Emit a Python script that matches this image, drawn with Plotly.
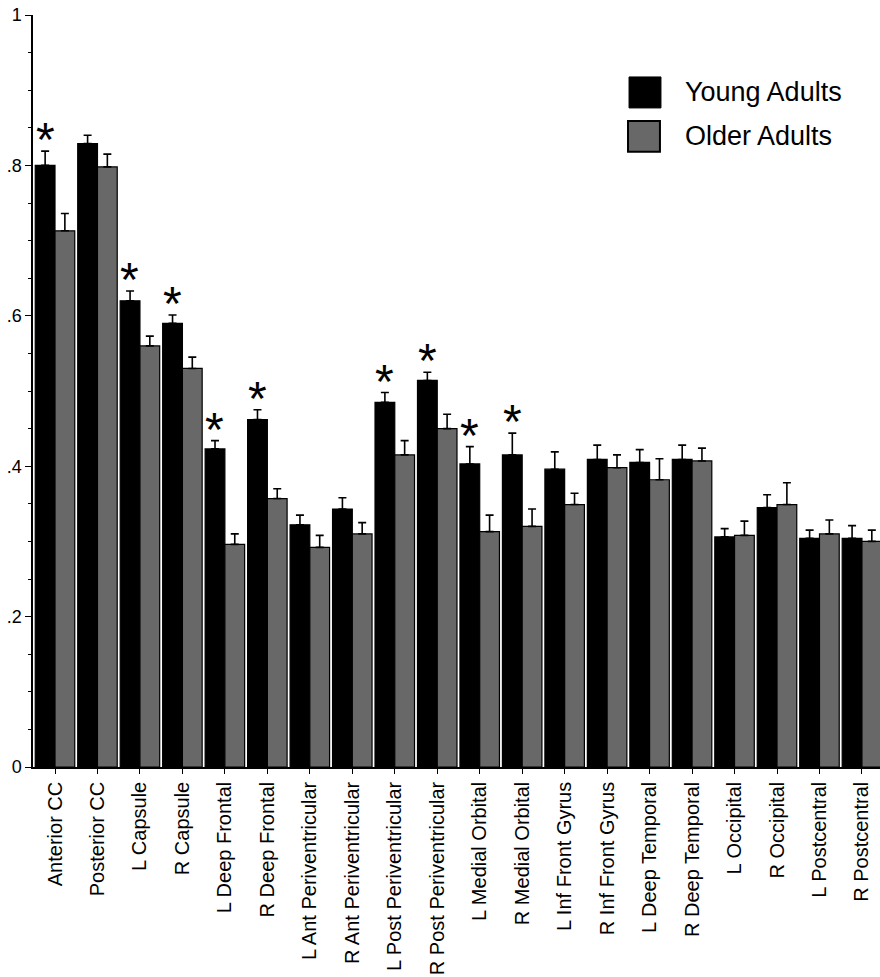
import plotly.graph_objects as go

categories = ["Anterior CC", "Posterior CC", "L Capsule", "R Capsule", "L Deep Frontal",
              "R Deep Frontal", "L Ant Periventricular", "R Ant Periventricular",
              "L Post Periventricular", "R Post Periventricular", "L Medial Orbital",
              "R Medial Orbital", "L Inf Front Gyrus", "R Inf Front Gyrus", "L Deep Temporal",
              "R Deep Temporal", "L Occipital", "R Occipital", "L Postcentral", "R Postcentral"]
young = [0.800, 0.829, 0.620, 0.590, 0.423, 0.462, 0.322, 0.343, 0.485, 0.514,
         0.403, 0.415, 0.396, 0.409, 0.405, 0.409, 0.306, 0.345, 0.304, 0.304]
young_err = [0.019, 0.011, 0.013, 0.011, 0.011, 0.013, 0.013, 0.015, 0.013, 0.011,
             0.023, 0.029, 0.023, 0.019, 0.017, 0.019, 0.011, 0.017, 0.011, 0.017]
older = [0.713, 0.798, 0.560, 0.530, 0.296, 0.357, 0.292, 0.310, 0.415, 0.450,
         0.313, 0.320, 0.349, 0.398, 0.382, 0.407, 0.308, 0.349, 0.310, 0.300]
older_err = [0.023, 0.017, 0.013, 0.015, 0.014, 0.013, 0.016, 0.015, 0.019, 0.019,
             0.022, 0.023, 0.015, 0.017, 0.028, 0.017, 0.019, 0.029, 0.0185, 0.015]
significant = [True, False, True, True, True, True, False, False, True, True,
               True, True, False, False, False, False, False, False, False, False]
y_tickvals = [0, 0.2, 0.4, 0.6, 0.8, 1]
y_ticktext = ["0", ".2", ".4", ".6", ".8", "1"]
series_names = ["Young Adults", "Older Adults"]

FONT = "Liberation Sans, Arial, sans-serif"
GREY = "#686868"

fig = go.Figure()
fig.add_trace(go.Bar(
    x=categories, y=young, name=series_names[0],
    marker=dict(color="black", line=dict(color="black", width=1.2)),
    error_y=dict(type="data", symmetric=False, array=young_err,
                 arrayminus=[0] * len(young_err), color="black", thickness=1.6, width=4),
    showlegend=False))
fig.add_trace(go.Bar(
    x=categories, y=older, name=series_names[1],
    marker=dict(color=GREY, line=dict(color="black", width=1.2)),
    error_y=dict(type="data", symmetric=False, array=older_err,
                 arrayminus=[0] * len(older_err), color="black", thickness=1.6, width=4),
    showlegend=False))

annotations = []
for c, v, e, s in zip(categories, young, young_err, significant):
    if s:
        annotations.append(dict(x=c, y=v + e, text="*", showarrow=False, xref="x", yref="y",
                                xanchor="center", yanchor="bottom", xshift=-10, yshift=-17,
                                font=dict(family=FONT, size=48, color="black")))

# legend drawn manually (large boxes)
shapes = [
    dict(type="rect", xref="paper", yref="paper", x0=0.7037, x1=0.7414, y0=0.8764, y1=0.9176,
         fillcolor="black", line=dict(color="black", width=1)),
    dict(type="rect", xref="paper", yref="paper", x0=0.7025, x1=0.7402, y0=0.8180, y1=0.8592,
         fillcolor=GREY, line=dict(color="black", width=2)),
]
annotations.append(dict(x=0.7674, y=0.8970, xref="paper", yref="paper", text=series_names[0],
                        showarrow=False, xanchor="left", yanchor="middle",
                        font=dict(family=FONT, size=27, color="black")))
annotations.append(dict(x=0.7674, y=0.8386, xref="paper", yref="paper", text=series_names[1],
                        showarrow=False, xanchor="left", yanchor="middle",
                        font=dict(family=FONT, size=27, color="black")))

fig.update_layout(
    width=880, height=977,
    margin=dict(l=33, r=0, t=15, b=210, pad=0),
    paper_bgcolor="white", plot_bgcolor="white",
    barmode="group", bargap=0.07, bargroupgap=0,
    annotations=annotations, shapes=shapes,
    font=dict(family=FONT, color="black"),
)
fig.update_xaxes(
    range=[-0.518, 19.425], showline=True, linecolor="black", linewidth=1.5,
    ticks="outside", ticklen=5, tickcolor="black", tickwidth=1.2,
    tickangle=-90, tickfont=dict(family=FONT, size=20, color="black"),
    showgrid=False, zeroline=False, automargin=False,
)
fig.update_yaxes(
    range=[0, 1], tickvals=y_tickvals, ticktext=y_ticktext,
    showline=True, linecolor="black", linewidth=1.5,
    ticks="outside", ticklen=6, tickcolor="black", tickwidth=1.2,
    tickfont=dict(family=FONT, size=18, color="black"),
    minor=dict(dtick=0.05, tick0=0, ticks="outside", ticklen=3, tickcolor="black", tickwidth=1.2),
    showgrid=False, zeroline=False, automargin=False,
)

fig.write_html("out.html", config={"displayModeBar": False},
               post_script="document.body.style.margin='0';document.body.style.padding='0';"
                           "document.body.style.overflow='hidden';")
